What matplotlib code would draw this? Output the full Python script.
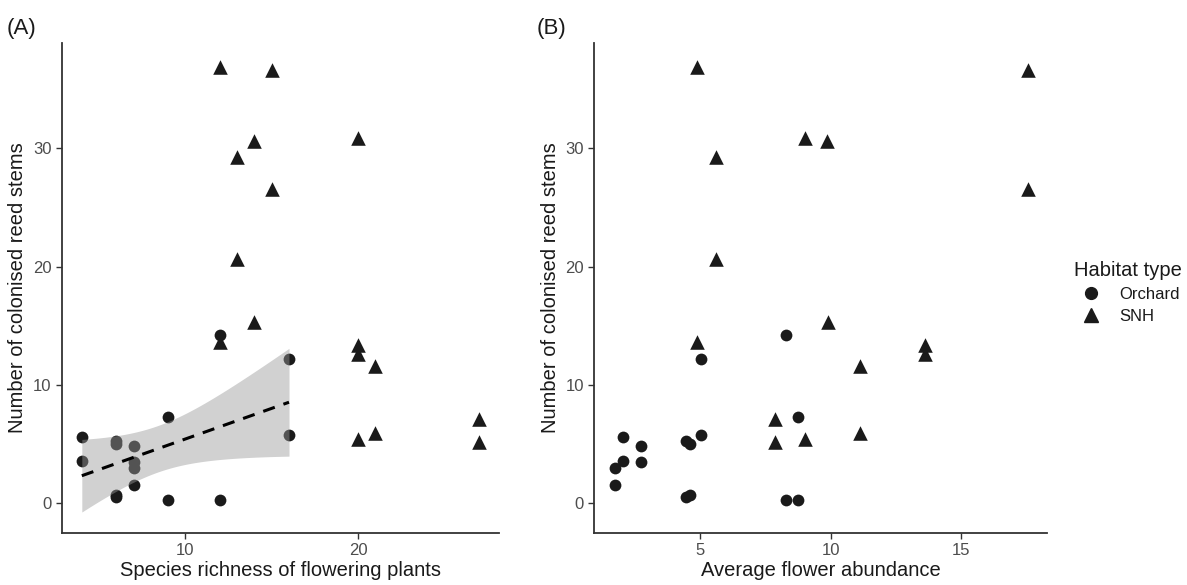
import numpy as np
import matplotlib.pyplot as plt
from matplotlib.lines import Line2D

plt.rcParams['font.family'] = ['Liberation Sans', 'DejaVu Sans']

# Orchard sites
orch_rich = [4, 4, 6, 6, 6, 6, 7, 7, 7, 7, 9, 9, 12, 12, 16, 16]
orch_abund = [2.03, 2.03, 4.44, 4.61, 4.61, 4.44, 2.73, 2.73, 1.74, 1.74,
              8.74, 8.74, 8.3, 8.3, 5.02, 5.02]
orch_stems = [5.55, 3.55, 5.28, 5.0, 0.7, 0.5, 4.8, 3.5, 3.0, 1.5,
              7.25, 0.25, 14.2, 0.25, 12.2, 5.8]

# Semi-natural habitat (SNH) sites
snh_rich = [12, 15, 20, 14, 13, 15, 13, 14, 12, 20, 20, 21, 27, 27, 20, 21]
snh_abund = [4.87, 17.55, 9.03, 9.86, 5.6, 17.55, 5.6, 9.88, 4.87, 13.6,
             13.6, 11.13, 7.87, 7.87, 9.03, 11.13]
snh_stems = [36.9, 36.6, 30.9, 30.6, 29.3, 26.6, 20.6, 15.35, 13.6, 13.4,
             12.6, 11.6, 7.1, 5.15, 5.45, 5.9]

T_975 = 2.145  # t quantile, df = 14

PT = '#1a1a1a'
TXT = '#1a1a1a'
TICK = '#4d4d4d'


def lm_band(x, y, xs):
    x = np.asarray(x, float)
    y = np.asarray(y, float)
    n = len(x)
    b, a = np.polyfit(x, y, 1)
    res = y - (a + b * x)
    s = np.sqrt(np.sum(res ** 2) / (n - 2))
    sxx = np.sum((x - x.mean()) ** 2)
    fit = a + b * xs
    se = s * np.sqrt(1.0 / n + (xs - x.mean()) ** 2 / sxx)
    return fit, fit - T_975 * se, fit + T_975 * se


def style(ax, xlabel):
    for sp in ['top', 'right']:
        ax.spines[sp].set_visible(False)
    for sp in ['left', 'bottom']:
        ax.spines[sp].set_linewidth(1.3)
        ax.spines[sp].set_color('#333333')
    ax.tick_params(colors='#333333', labelcolor=TICK, labelsize=12,
                   length=4, width=1)
    ax.set_xlabel(xlabel, fontsize=14.5, color=TXT, labelpad=2)
    ax.set_ylabel('Number of colonised reed stems', fontsize=14.5,
                  color=TXT, labelpad=4)
    ax.set_yticks([0, 10, 20, 30])
    ax.set_ylim(-2.5, 38.9)


fig = plt.figure(figsize=(11.87, 5.85), dpi=100)
axA = fig.add_axes([0.0522, 0.0894, 0.368, 0.837])
axB = fig.add_axes([0.5007, 0.0894, 0.3816, 0.837])

# panel A
axA.scatter(orch_rich, orch_stems, s=72, marker='o', color=PT, lw=0, zorder=2)
axA.scatter(snh_rich, snh_stems, s=110, marker='^', color=PT, lw=0, zorder=2)
xs = np.linspace(min(orch_rich), max(orch_rich), 80)
fit, lo, hi = lm_band(orch_rich, orch_stems, xs)
axA.fill_between(xs, lo, hi, color='#999999', alpha=0.45, lw=0, zorder=3)
axA.plot(xs, fit, color='black', ls=(0, (4, 3)), lw=2.2, zorder=4)
axA.set_xlim(2.85, 28.15)
axA.set_xticks([10, 20])
style(axA, 'Species richness of flowering plants')

# panel B
axB.scatter(orch_abund, orch_stems, s=72, marker='o', color=PT, lw=0, zorder=2)
axB.scatter(snh_abund, snh_stems, s=110, marker='^', color=PT, lw=0, zorder=2)
axB.set_xlim(0.94, 18.3)
axB.set_xticks([5, 10, 15])
style(axB, 'Average flower abundance')

fig.text(0.006, 0.952, '(A)', fontsize=16, color=TXT, va='center')
fig.text(0.452, 0.952, '(B)', fontsize=16, color=TXT, va='center')

handles = [Line2D([], [], marker='o', ls='', color=PT, markersize=8.5),
           Line2D([], [], marker='^', ls='', color=PT, markersize=10)]
leg = fig.legend(handles, ['Orchard', 'SNH'], title='Habitat type',
                 loc='center left', bbox_to_anchor=(0.895, 0.5),
                 frameon=False, fontsize=12, title_fontsize=14.5,
                 handletextpad=0.7, labelspacing=0.4, alignment='left',
                 borderpad=0.2)
for t in leg.get_texts():
    t.set_color(TXT)
leg.get_title().set_color(TXT)

fig.savefig('out.png', dpi=100)
